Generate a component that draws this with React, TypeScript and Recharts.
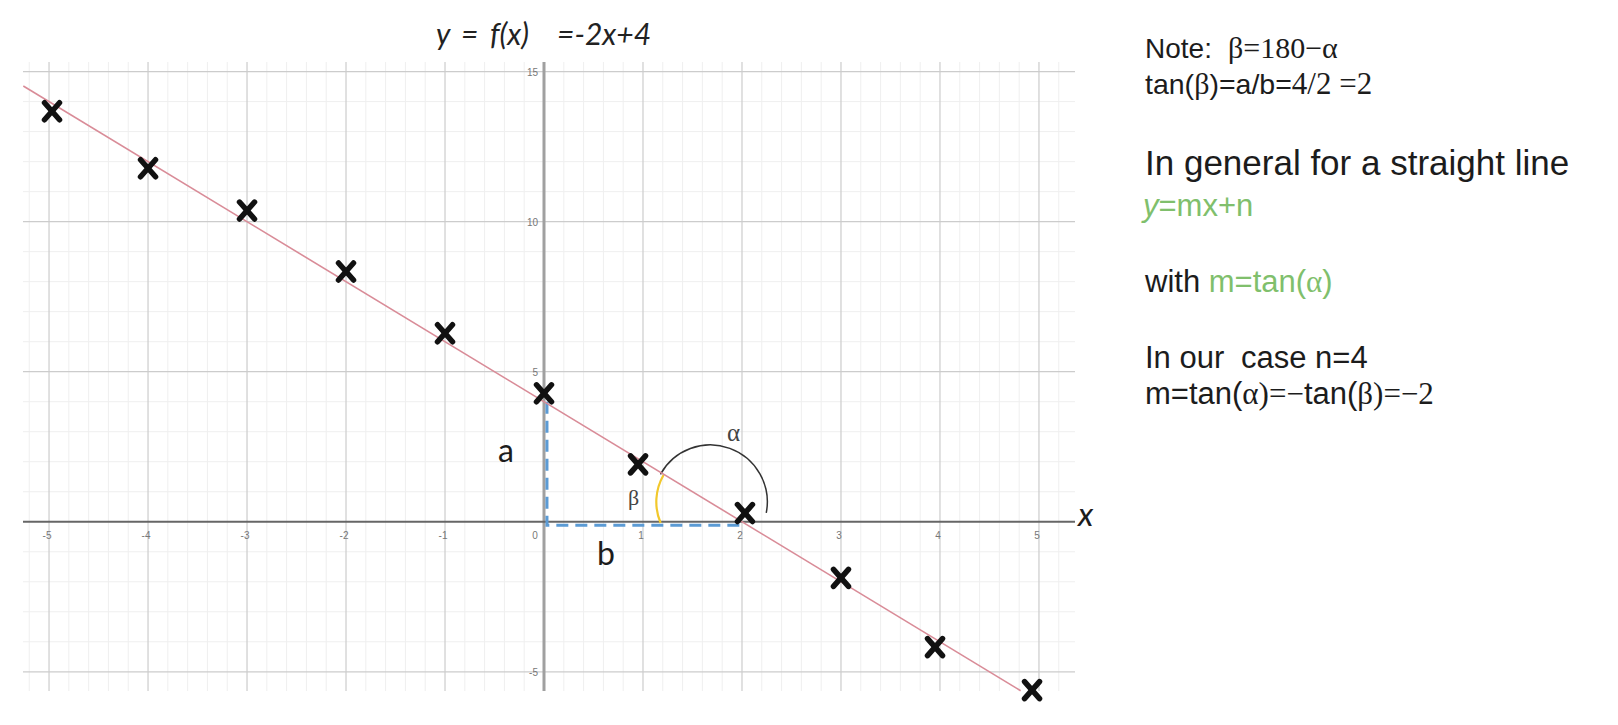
import React from 'react';
import { ScatterChart, Scatter, XAxis, YAxis, ReferenceLine, ReferenceDot } from 'recharts';

// grid / ticks
const xTicks = [-5, -4, -3, -2, -1, 0, 1, 2, 3, 4, 5];
const yTicks = [-5, 5, 10, 15];
const yMinor = [-4, -3, -2, -1, 1, 2, 3, 4, 6, 7, 8, 9, 11, 12, 13, 14];
const xMinor: number[] = [];
for (let i = -26; i <= 26; i++) if (i % 5 !== 0) xMinor.push(i / 5);

// measured points (the crosses)
const markerX = [-4.97, -4, -3, -2, -1, 0, 0.95, 2.03, 3, 3.95, 4.93];
const markerY = [13.68, 11.78, 10.37, 8.34, 6.28, 4.28, 1.91, 0.29, -1.87, -4.18, -5.61];

// f(x) = -2x + 4, drawn end to end
const lineX = [-5.26, 4.815];
const lineY = [14.52, -5.63];

// dashed legs a / b of the triangle
const legX = [0.03, 0.03, 2.0];
const legY = [4.0, -0.12, -0.12];

// centre of the angle arcs
const arcX = 1.68;
const arcY = 0.66;

const markers = markerX.map((x, i) => ({ x, y: markerY[i] }));
const fLine = lineX.map((x, i) => ({ x, y: lineY[i] }));
const legs = legX.map((x, i) => ({ x, y: legY[i] }));

const SANS = '"Liberation Sans", Arial, sans-serif';
const SERIF = '"Liberation Serif", "Times New Roman", serif';
const GREEN = '#80bf6c';
const INK = '#1c1c1c';

const Cross = (props: any) => {
  const { cx, cy } = props;
  if (cx == null || cy == null) return <g />;
  return (
    <g stroke="#111" strokeWidth={5.5} strokeLinecap="round">
      <line x1={cx - 7.5} y1={cy - 8.5} x2={cx + 7.5} y2={cy + 8.5} />
      <line x1={cx + 7.5} y1={cy - 8.5} x2={cx - 7.5} y2={cy + 8.5} />
    </g>
  );
};

const NoShape = () => <g />;

const pt = (cx: number, cy: number, r: number, deg: number) => {
  const a = (deg * Math.PI) / 180;
  return `${cx + r * Math.cos(a)} ${cy - r * Math.sin(a)}`;
};

const AngleArcs = (props: any) => {
  const { cx, cy } = props;
  return (
    <g fill="none">
      <path d={`M ${pt(cx, cy, 57, 151)} A 57 57 0 0 1 ${pt(cx, cy, 57, -11)}`} stroke="#333" strokeWidth={1.5} />
      <path d={`M ${pt(cx, cy, 54, 150)} A 54 54 0 0 0 ${pt(cx, cy, 54, 203)}`} stroke="#f2c82c" strokeWidth={2.2} />
    </g>
  );
};

const xTickLabel = (v: number) => (props: any) => (
  <text x={props.cx + (v === 0 ? -9 : -2)} y={props.cy + 17} textAnchor="middle" fontSize={10} fontFamily={SANS} fill="#777">
    {v}
  </text>
);

const yTickLabel = (v: number) => (props: any) => (
  <text x={props.cx - 6} y={props.cy + 4} textAnchor="end" fontSize={10} fontFamily={SANS} fill="#777">
    {v}
  </text>
);

export default function App() {
  return (
    <div style={{ position: 'absolute', left: 0, top: 0, width: 1618, height: 725, background: '#fff' }}>
      <ScatterChart width={1618} height={725} margin={{ top: 62, right: 543, bottom: 34, left: 23 }}>
        <XAxis type="number" dataKey="x" domain={[-5.263, 5.364]} hide />
        <YAxis type="number" dataKey="y" domain={[-5.64, 15.32]} hide />

        {xMinor.map((v) => (
          <ReferenceLine key={'xm' + v} x={v} stroke="#efefef" strokeWidth={1} />
        ))}
        {yMinor.map((v) => (
          <ReferenceLine key={'ym' + v} y={v} stroke="#efefef" strokeWidth={1} />
        ))}
        {xTicks.filter((v) => v !== 0).map((v) => (
          <ReferenceLine key={'xg' + v} x={v} stroke="#cccccc" strokeWidth={1.2} />
        ))}
        {yTicks.map((v) => (
          <ReferenceLine key={'yg' + v} y={v} stroke="#cccccc" strokeWidth={1.2} />
        ))}
        <ReferenceLine x={0} stroke="#a0a0a0" strokeWidth={3} />
        <ReferenceLine y={0} stroke="#666" strokeWidth={2} />

        {xTicks.map((v) => (
          <ReferenceDot key={'xl' + v} x={v} y={0} r={0} shape={xTickLabel(v)} />
        ))}
        {yTicks.map((v) => (
          <ReferenceDot key={'yl' + v} x={0} y={v} r={0} shape={yTickLabel(v)} />
        ))}

        <ReferenceDot x={arcX} y={arcY} r={0} shape={AngleArcs} />

        <Scatter
          data={legs}
          shape={NoShape}
          line={{ stroke: '#5b9bd5', strokeWidth: 3, strokeDasharray: '12 7' }}
          isAnimationActive={false}
        />
        <Scatter
          data={fLine}
          shape={NoShape}
          line={{ stroke: '#d98c98', strokeWidth: 1.6 }}
          isAnimationActive={false}
        />
        <Scatter data={markers} shape={Cross} isAnimationActive={false} />
      </ScatterChart>

      <svg width={1618} height={725} style={{ position: 'absolute', left: 0, top: 0, pointerEvents: 'none' }}>
        {/* title */}
        <text y={45} fontFamily="Lato, sans-serif" fontStyle="italic" fontSize={30} fill="#222">
          <tspan x={436}>y</tspan>
          <tspan x={461}>=</tspan>
          <tspan x={490}>f(x)</tspan>
          <tspan x={557}>=-2x+4</tspan>
        </text>

        {/* labels on the plot */}
        <text x={1078} y={526} fontFamily="Lato, sans-serif" fontStyle="italic" fontSize={33} fill={INK}>x</text>
        <text x={498} y={462} fontFamily="Lato, sans-serif" fontSize={32} fill={INK}>a</text>
        <text x={597} y={565} fontFamily="Lato, sans-serif" fontSize={32} fill={INK}>b</text>
        <text x={628} y={505} fontFamily={SERIF} fontSize={22} fill="#444">β</text>
        <text x={727} y={441} fontFamily={SERIF} fontSize={25} fill="#444">α</text>

        {/* notes on the right */}
        <g fill={INK}>
          <text y={58} fontSize={28} fontFamily={SANS}>
            <tspan x={1145}>Note:</tspan>
            <tspan x={1228} fontFamily={SERIF} fontSize={30}>β=180−α</tspan>
          </text>
          <text y={94} fontSize={28.5} fontFamily={SANS}>
            <tspan x={1145}>tan(</tspan>
            <tspan fontFamily={SERIF} fontSize={30}>β</tspan>
            <tspan>)=a/b=</tspan>
            <tspan fontFamily={SERIF} fontSize={31}>4/2 =2</tspan>
          </text>
          <text x={1145} y={175} fontSize={35} fontFamily={SANS}>In general for a straight line</text>
          <text x={1143} y={216} fontSize={31} fontFamily={SANS} fill={GREEN}>
            <tspan fontStyle="italic">y</tspan>
            <tspan>=mx+n</tspan>
          </text>
          <text x={1145} y={292} fontSize={31} fontFamily={SANS}>
            <tspan>with </tspan>
            <tspan fill={GREEN}>m=tan(</tspan>
            <tspan fill={GREEN} fontFamily={SERIF}>α</tspan>
            <tspan fill={GREEN}>)</tspan>
          </text>
          <text y={368} fontSize={31} fontFamily={SANS}>
            <tspan x={1145}>In our</tspan>
            <tspan x={1241}>case n=4</tspan>
          </text>
          <text x={1145} y={404} fontSize={31} fontFamily={SANS}>
            <tspan>m=tan(</tspan>
            <tspan fontFamily={SERIF}>α)=−</tspan>
            <tspan>tan(</tspan>
            <tspan fontFamily={SERIF}>β)=−2</tspan>
          </text>
        </g>
      </svg>
    </div>
  );
}
